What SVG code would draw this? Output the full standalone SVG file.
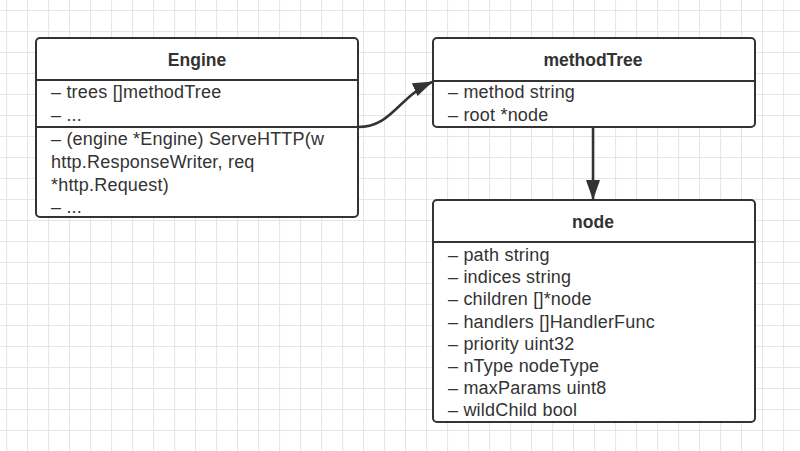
<svg xmlns="http://www.w3.org/2000/svg" width="800" height="451" viewBox="0 0 800 451">
<defs>
<pattern id="grid" x="6" y="10" width="21" height="21" patternUnits="userSpaceOnUse">
<path d="M0.5,0 V21 M0,0.5 H21" fill="none" stroke="#e6e6e6" stroke-width="1.2"/>
</pattern>
<marker id="arr" markerWidth="20" markerHeight="14" refX="19" refY="7" orient="auto" markerUnits="userSpaceOnUse" viewBox="0 0 20 14">
<path d="M0,0 L20,7 L0,14 z" fill="#333"/>
</marker>
<style>
.box{fill:#fff;stroke:#333;stroke-width:2}
.sep{stroke:#333;stroke-width:2}
.title{font-family:"Liberation Sans",Arial,sans-serif;font-size:17.5px;font-weight:bold;fill:#333;text-anchor:middle}
.attr{font-family:"Liberation Sans",Arial,sans-serif;font-size:18px;letter-spacing:0.2px;fill:#333}
.conn{fill:none;stroke:#333;stroke-width:2.5}
</style>
</defs>
<rect width="800" height="451" fill="#fff"/>
<rect width="800" height="451" fill="url(#grid)"/>
<g id="connectors">
<path class="conn" d="M358,127 C392,127 398,97 432,82" marker-end="url(#arr)"/>
<path class="conn" d="M593,127 V199" marker-end="url(#arr)"/>
</g>
<g id="engine">
<rect class="box" x="36" y="38" width="322" height="179" rx="4"/>
<line class="sep" x1="36" y1="80" x2="358" y2="80"/>
<line class="sep" x1="36" y1="127" x2="358" y2="127"/>
<text class="title" x="197" y="66">Engine</text>
<text class="attr" x="51" y="98">– trees []methodTree</text>
<text class="attr" x="51" y="121">– ...</text>
<text class="attr" x="51" y="145">– (engine *Engine) ServeHTTP(w</text>
<text class="attr" x="51" y="168">http.ResponseWriter, req</text>
<text class="attr" x="51" y="191">*http.Request)</text>
<text class="attr" x="51" y="213">– ...</text>
</g>
<g id="methodTree">
<rect class="box" x="433" y="38" width="322" height="89" rx="4"/>
<line class="sep" x1="433" y1="81" x2="755" y2="81"/>
<text class="title" x="593" y="66">methodTree</text>
<text class="attr" x="448" y="98">– method string</text>
<text class="attr" x="448" y="121">– root *node</text>
</g>
<g id="node">
<rect class="box" x="433" y="200" width="322" height="222" rx="4"/>
<line class="sep" x1="433" y1="242" x2="755" y2="242"/>
<text class="title" x="593" y="228">node</text>
<text class="attr" x="448" y="261">– path string</text>
<text class="attr" x="448" y="283">– indices string</text>
<text class="attr" x="448" y="305">– children []*node</text>
<text class="attr" x="448" y="328">– handlers []HandlerFunc</text>
<text class="attr" x="448" y="350">– priority uint32</text>
<text class="attr" x="448" y="372">– nType nodeType</text>
<text class="attr" x="448" y="394">– maxParams uint8</text>
<text class="attr" x="448" y="416">– wildChild bool</text>
</g>
</svg>
